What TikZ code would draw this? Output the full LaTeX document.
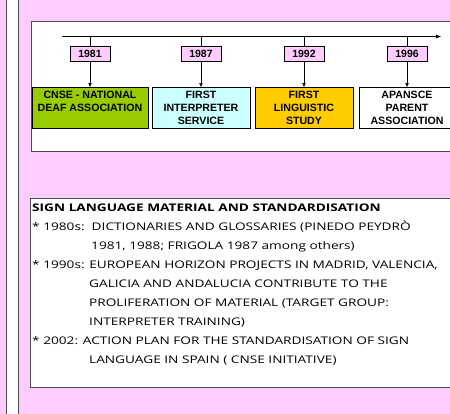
\documentclass[tikz,border=0pt]{standalone}
\usepackage{fontspec}
\setmainfont{Liberation Sans}
\newfontfamily\notefont[FakeStretch=1.3]{Open Sans}
\usetikzlibrary{positioning,arrows.meta}
\definecolor{bgpink}{HTML}{FFCCFF}
\definecolor{evgreen}{HTML}{99CC00}
\definecolor{evcyan}{HTML}{CCFFFF}
\definecolor{evorange}{HTML}{FFCC00}
\begin{document}
\begin{tikzpicture}[x=1pt,y=-1pt]

    \tikzset{
      yearbox/.style={
        draw,
        fill=bgpink,
        minimum width=40pt,
        minimum height=15pt,
        inner sep=0pt,
        font=\bfseries\fontsize{10.5}{11}\selectfont,
      },
      eventbox/.style={
        draw,
        minimum height=41pt,
        inner sep=1pt,
        align=center,
        font=\bfseries\fontsize{10.6}{13}\selectfont,
      },
      frame/.style={draw=black!70, line width=1pt},
    }
    \useasboundingbox (0,0) rectangle (450,414);
    \fill[bgpink] (0,0) rectangle (450,414);
    \filldraw[fill=white, draw=black!70, line width=0.8pt] (6.5,-2) rectangle (18.5,416);
    \filldraw[fill=white, frame] (31,22) rectangle (460,152);
    \filldraw[fill=white, frame] (30,199) rectangle (460,387);

    % timeline
    \coordinate (tlstart) at (62,36.5);
    \coordinate (tlend) at (441,36.5);
    \draw[-{Latex[length=5pt,width=4pt]}] (tlstart) -- (tlend);

    \node[yearbox] (y1981) at (90,53.5) {1981};
    \node[yearbox] (y1987) at (201,53.5) {1987};
    \node[yearbox] (y1992) at (304,53.5) {1992};
    \node[yearbox] (y1996) at (407,53.5) {1996};

    \node[eventbox, fill=evgreen, minimum width=116pt, below=26pt of y1981] (e1981) {CNSE - NATIONAL\\DEAF ASSOCIATION\\\mbox{}};
    \node[eventbox, fill=evcyan, minimum width=98pt, below=26pt of y1987] (e1987) {FIRST\\INTERPRETER\\SERVICE};
    \node[eventbox, fill=evorange, minimum width=98pt, below=26pt of y1992] (e1992) {FIRST\\LINGUISTIC\\STUDY};
    \node[eventbox, fill=white, minimum width=96pt, below=26pt of y1996] (e1996) {APANSCE\\PARENT\\ASSOCIATION};

    \foreach \yr in {1981,1987,1992,1996}{
      \draw (y\yr.north) -- (y\yr.north |- tlstart);
      \draw[-{Latex[length=4pt,width=3.5pt]}] (y\yr) -- (e\yr);
    }

    % sign language material
    \node[anchor=north west, align=left, inner sep=0pt,
          font=\notefont\fontsize{10.5}{18.9}\selectfont] (notes) at (32,204) {%
      \textbf{SIGN LANGUAGE MATERIAL AND STANDARDISATION}\\
      * 1980s:\ \ DICTIONARIES AND GLOSSARIES (PINEDO PEYDRÒ\\
      \hspace*{59pt}1981, 1988; FRIGOLA 1987 among others)\\
      * 1990s: EUROPEAN HORIZON PROJECTS IN MADRID, VALENCIA,\\
      \hspace*{57pt}GALICIA AND ANDALUCIA CONTRIBUTE TO THE\\
      \hspace*{57pt}PROLIFERATION OF MATERIAL (TARGET GROUP:\\
      \hspace*{57pt}INTERPRETER TRAINING)\\
      * 2002: ACTION PLAN FOR THE STANDARDISATION OF SIGN\\
      \hspace*{57pt}LANGUAGE IN SPAIN ( CNSE INITIATIVE)};

\end{tikzpicture}
\end{document}
